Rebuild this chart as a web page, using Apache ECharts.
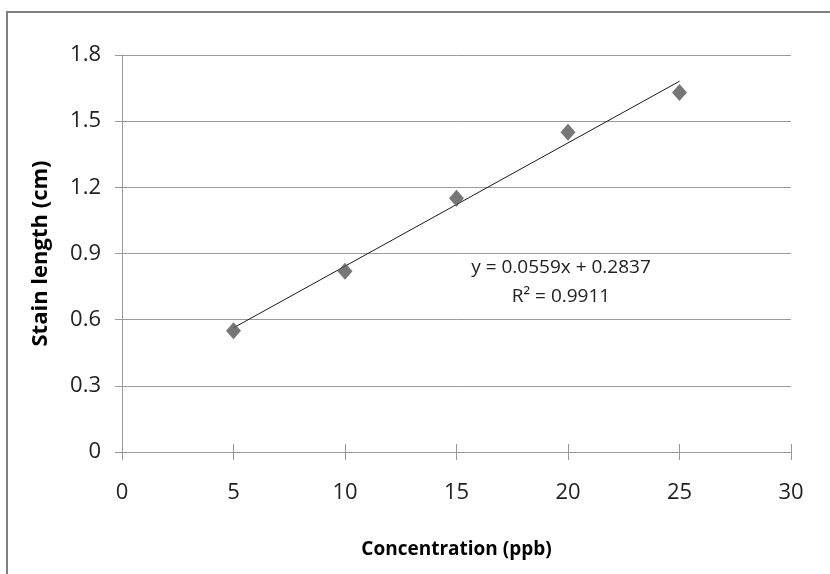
<!DOCTYPE html>
<html>
<head>
<meta charset="utf-8">
<title>Stain length vs concentration</title>
<script src="https://cdn.jsdelivr.net/npm/echarts@6/dist/echarts.min.js"></script>
<style>
  html, body { margin: 0; padding: 0; background: #fff; }
  #chart { width: 830px; height: 574px; }
</style>
</head>
<body>
<div id="chart"></div>
<script>
// data
const concentration = [5, 10, 15, 20, 25];
const stainLength = [0.55, 0.82, 1.15, 1.45, 1.63];
// linear trend line ends (x from 5 to 25)
const trendX = [5, 25];
const trendY = [0.563, 1.681];
const equationLines = ['y = 0.0559x + 0.2837', 'R² = 0.9911'];

const FONT = '"Open Sans", "Noto Sans", sans-serif';
const gridColor = '#9a9a9a';

const chart = echarts.init(document.getElementById('chart'), null, { renderer: 'canvas' });

const xBase = {
  type: 'value',
  min: 0,
  max: 30,
  interval: 5,
  axisLine: { lineStyle: { color: gridColor, width: 1 } },
  splitLine: { show: false }
};

chart.setOption({
  backgroundColor: '#fff',
  animation: false,
  textStyle: { fontFamily: FONT },
  grid: { left: 122, right: 39, top: 55, bottom: 122, containLabel: false },
  xAxis: [
    {
      ...xBase,
      name: 'Concentration (ppb)',
      nameLocation: 'middle',
      nameGap: 88,
      nameTextStyle: { fontSize: 19, fontWeight: 'bold', color: '#000', fontFamily: FONT },
      axisTick: { show: true, length: 8, lineStyle: { color: gridColor } },
      axisLabel: { fontSize: 22, color: '#222', margin: 30, fontFamily: FONT }
    },
    {
      // inner half of the crossing ticks
      ...xBase,
      position: 'bottom',
      axisTick: { show: true, inside: true, length: 8, lineStyle: { color: gridColor } },
      axisLabel: { show: false }
    }
  ],
  yAxis: {
    type: 'value',
    min: 0,
    max: 1.8,
    interval: 0.3,
    name: 'Stain length (cm)',
    nameLocation: 'middle',
    nameGap: 70,
    nameTextStyle: { fontSize: 22, fontWeight: 'bold', color: '#000', fontFamily: FONT },
    axisLine: { show: true, lineStyle: { color: gridColor } },
    axisTick: { show: true, length: 7, lineStyle: { color: gridColor } },
    axisLabel: {
      fontSize: 22, color: '#222', margin: 21, fontFamily: FONT,
      formatter: v => (v === 0 ? '0' : v.toFixed(1))
    },
    splitLine: { show: true, lineStyle: { color: gridColor, width: 1 } }
  },
  series: [
    {
      name: 'Linear trend',
      type: 'line',
      data: trendX.map((x, i) => [x, trendY[i]]),
      symbol: 'none',
      lineStyle: { color: '#1a1a1a', width: 1 },
      z: 3
    },
    {
      name: 'Stain length',
      type: 'scatter',
      data: concentration.map((x, i) => [x, stainLength[i]]),
      symbol: 'diamond',
      symbolSize: [15, 17],
      itemStyle: { color: '#555555' },
      z: 4
    }
  ],
  graphic: [
    {
      type: 'rect',
      shape: { x: 7, y: 12, width: 900, height: 700 },
      style: { fill: 'none', stroke: '#7f7f7f', lineWidth: 2 },
      silent: true,
      z: 10
    },
    // trend equation, centred lines
    ...equationLines.map((line, i) => ({
      type: 'text',
      x: 561,
      y: 268 + i * 29,
      style: {
        text: line,
        fontSize: 19,
        fontFamily: FONT,
        fill: '#222',
        align: 'center',
        verticalAlign: 'middle'
      }
    }))
  ]
});
</script>
</body>
</html>
